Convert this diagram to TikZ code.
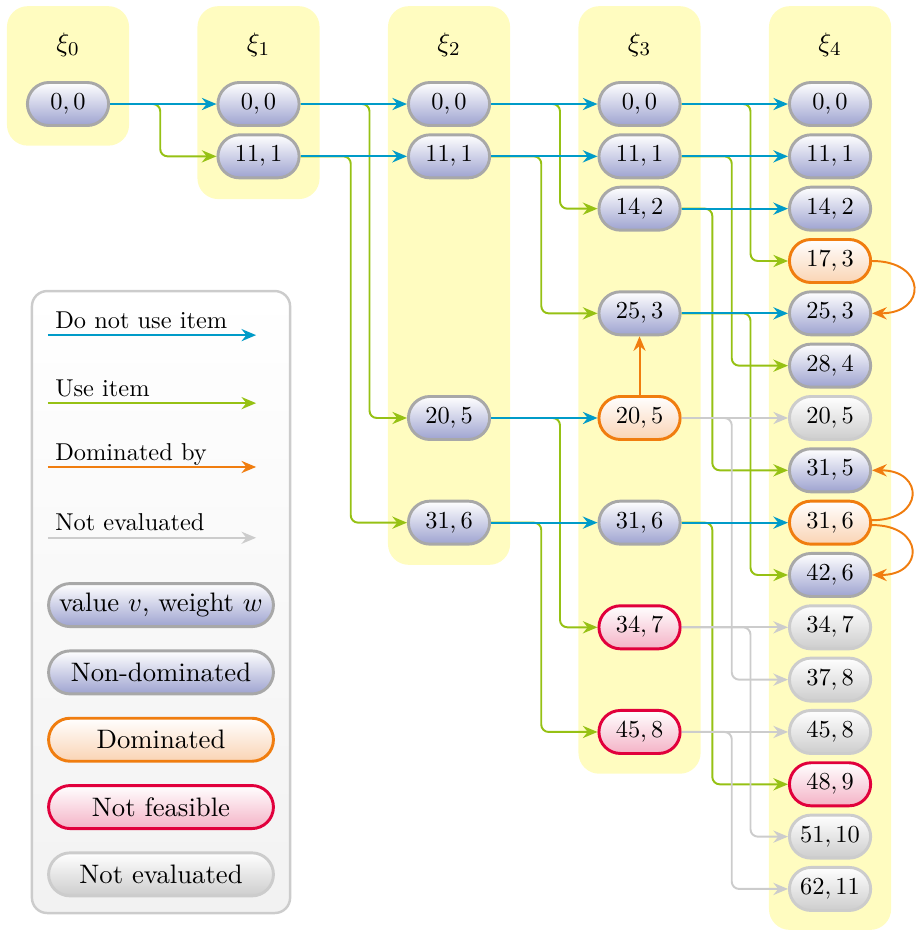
\documentclass[tikz,border=0pt]{standalone}
\usetikzlibrary{arrows.meta}

\definecolor{stageyellow}{RGB}{255,252,192}
\definecolor{skipblue}{RGB}{0,155,200}
\definecolor{usegreen}{RGB}{150,193,20}
\definecolor{domorange}{RGB}{240,125,15}
\definecolor{infred}{RGB}{225,0,60}
\definecolor{evalgray}{RGB}{204,204,204}
\definecolor{bordergray}{RGB}{168,168,168}
\definecolor{fillblue}{RGB}{158,163,208}
\definecolor{fillpeach}{RGB}{250,212,180}
\definecolor{fillpink}{RGB}{244,178,198}
\definecolor{fillgray}{RGB}{205,205,205}
\definecolor{keyback}{RGB}{242,242,242}

\tikzset{
  cell/.style={rectangle, rounded corners=3.1mm, minimum width=1.17cm,
    minimum height=0.62cm, inner sep=1pt, line width=1.2pt},
  nondom/.style={cell, draw=bordergray, top color=white, bottom color=fillblue},
  dom/.style={cell, draw=domorange, top color=white, bottom color=fillpeach},
  infeas/.style={cell, draw=infred, top color=white, bottom color=fillpink},
  noteval/.style={cell, draw=evalgray, top color=white, bottom color=fillgray},
  edgetip/.style={-{Stealth[length=6pt,width=5pt,inset=2pt]}},
  skipedge/.style={edgetip, thick, draw=skipblue},
  useedge/.style={edgetip, thick, draw=usegreen, rounded corners=3pt},
  domedge/.style={edgetip, thick, draw=domorange},
  evaledge/.style={edgetip, thick, draw=evalgray, rounded corners=3pt},
  stagebox/.style={fill=stageyellow, rounded corners=3mm},
  stagelabel/.style={font=\fontsize{10.95}{13}\selectfont},
  keynode/.style={minimum width=3.24cm, font=\fontsize{10.95}{13}\selectfont},
}

\begin{document}
\begin{tikzpicture}
  \useasboundingbox (-0.98,1.4986) rectangle (12.205,-11.916);

  % stage xi_0
  \begin{scope}
    \fill[stagebox] (-0.88,1.41) rectangle (0.88,-0.6);
    \node[stagelabel] (x0) at (0,0.85) {$\xi_0$};
    \node[nondom] (a0) at (0,0) {$0,0$};
  \end{scope}

  % stage xi_1
  \begin{scope}[xshift=2.745cm]
    \fill[stagebox] (-0.88,1.41) rectangle (0.88,-1.37);
    \node[stagelabel] (x1) at (0,0.85) {$\xi_1$};
    \node[nondom] (b0)  at (0, 0)     {$0,0$};
    \node[nondom] (b11) at (0,-0.754) {$11,1$};
  \end{scope}

  % stage xi_2
  \begin{scope}[xshift=5.49cm]
    \fill[stagebox] (-0.88,1.41) rectangle (0.88,-6.64);
    \node[stagelabel] (x2) at (0,0.85) {$\xi_2$};
    \node[nondom] (c0)  at (0, 0)     {$0,0$};
    \node[nondom] (c11) at (0,-0.754) {$11,1$};
    \node[nondom] (c20) at (0,-4.524) {$20,5$};
    \node[nondom] (c31) at (0,-6.032) {$31,6$};
  \end{scope}

  % stage xi_3
  \begin{scope}[xshift=8.235cm]
    \fill[stagebox] (-0.88,1.41) rectangle (0.88,-9.65);
    \node[stagelabel] (x3) at (0,0.85) {$\xi_3$};
    \node[nondom] (d0)  at (0, 0)     {$0,0$};
    \node[nondom] (d11) at (0,-0.754) {$11,1$};
    \node[nondom] (d14) at (0,-1.508) {$14,2$};
    \node[nondom] (d25) at (0,-3.016) {$25,3$};
    \node[dom]    (d20) at (0,-4.524) {$20,5$};
    \node[nondom] (d31) at (0,-6.032) {$31,6$};
    \node[infeas] (d34) at (0,-7.540) {$34,7$};
    \node[infeas] (d45) at (0,-9.048) {$45,8$};
  \end{scope}

  % stage xi_4
  \begin{scope}[xshift=10.98cm]
    \fill[stagebox] (-0.88,1.41) rectangle (0.88,-11.9);
    \node[stagelabel] (x4) at (0,0.85) {$\xi_4$};
    \node[nondom]  (e0)   at (0, 0)      {$0,0$};
    \node[nondom]  (e11)  at (0,-0.754)  {$11,1$};
    \node[nondom]  (e14)  at (0,-1.508)  {$14,2$};
    \node[dom]     (e17)  at (0,-2.262)  {$17,3$};
    \node[nondom]  (e25)  at (0,-3.016)  {$25,3$};
    \node[nondom]  (e28)  at (0,-3.770)  {$28,4$};
    \node[noteval] (e20)  at (0,-4.524)  {$20,5$};
    \node[nondom]  (e31a) at (0,-5.278)  {$31,5$};
    \node[dom]     (e31b) at (0,-6.032)  {$31,6$};
    \node[nondom]  (e42)  at (0,-6.786)  {$42,6$};
    \node[noteval] (e34)  at (0,-7.540)  {$34,7$};
    \node[noteval] (e37)  at (0,-8.294)  {$37,8$};
    \node[noteval] (e45)  at (0,-9.048)  {$45,8$};
    \node[infeas]  (e48)  at (0,-9.802)  {$48,9$};
    \node[noteval] (e51)  at (0,-10.556) {$51,10$};
    \node[noteval] (e62)  at (0,-11.310) {$62,11$};
  \end{scope}

  % use item
  \draw[useedge] (a0.east)  -| ([xshift=-8.1mm]b11.west)  -- (b11.west);
  \draw[useedge] (b0.east)  -| ([xshift=-5.4mm]c20.west)  -- (c20.west);
  \draw[useedge] (b11.east) -| ([xshift=-8.1mm]c31.west)  -- (c31.west);
  \draw[useedge] (c0.east)  -| ([xshift=-5.4mm]d14.west)  -- (d14.west);
  \draw[useedge] (c11.east) -| ([xshift=-8.1mm]d25.west)  -- (d25.west);
  \draw[useedge] (c20.east) -| ([xshift=-5.4mm]d34.west)  -- (d34.west);
  \draw[useedge] (c31.east) -| ([xshift=-8.1mm]d45.west)  -- (d45.west);
  \draw[useedge] (d0.east)  -| ([xshift=-5.4mm]e17.west)  -- (e17.west);
  \draw[useedge] (d11.east) -| ([xshift=-8.1mm]e28.west)  -- (e28.west);
  \draw[useedge] (d14.east) -| ([xshift=-10.9mm]e31a.west) -- (e31a.west);
  \draw[useedge] (d25.east) -| ([xshift=-5.4mm]e42.west)  -- (e42.west);
  \draw[useedge] (d31.east) -| ([xshift=-10.9mm]e48.west) -- (e48.west);

  % not evaluated
  \draw[evaledge] (d20) -- (e20);
  \draw[evaledge] (d34) -- (e34);
  \draw[evaledge] (d45) -- (e45);
  \draw[evaledge] (d20.east) -| ([xshift=-8.1mm]e37.west) -- (e37.west);
  \draw[evaledge] (d34.east) -| ([xshift=-5.4mm]e51.west) -- (e51.west);
  \draw[evaledge] (d45.east) -| ([xshift=-8.1mm]e62.west) -- (e62.west);

  % do not use item
  \begin{scope}[every edge/.style={draw, skipedge}]
    \path (a0)  edge (b0);
    \path (b0)  edge (c0);
    \path (b11) edge (c11);
    \path (c0)  edge (d0);
    \path (c11) edge (d11);
    \path (c20) edge (d20);
    \path (c31) edge (d31);
    \path (d0)  edge (e0);
    \path (d11) edge (e11);
    \path (d14) edge (e14);
    \path (d25) edge (e25);
    \path (d31) edge (e31b);
  \end{scope}

  % dominated by
  \draw[domedge] (d20) -- (d25);
  \draw[domedge] (e17.east) to[out=0,in=0,looseness=2.7] (e25.east);
  \draw[domedge] ([yshift=1pt]e31b.east) to[out=0,in=0,looseness=2.7] (e31a.east);
  \draw[domedge] ([yshift=-1pt]e31b.east) to[out=0,in=0,looseness=2.7] (e42.east);

  % legend
  \begin{scope}
    \draw[draw=evalgray, line width=1pt, top color=white, bottom color=keyback,
      rounded corners=2.2mm] (-0.52,-2.695) rectangle (3.2,-11.657);
    \coordinate (k1s) at (-0.29,-3.33);
    \coordinate (k1e) at (2.71,-3.33);
    \coordinate (k2s) at (-0.29,-4.31);
    \coordinate (k2e) at (2.71,-4.31);
    \coordinate (k3s) at (-0.29,-5.23);
    \coordinate (k3e) at (2.71,-5.23);
    \coordinate (k4s) at (-0.29,-6.25);
    \coordinate (k4e) at (2.71,-6.25);
    \draw[skipedge] (k1s) -- (k1e);
    \draw[useedge]  (k2s) -- (k2e);
    \draw[domedge]  (k3s) -- (k3e);
    \draw[evaledge] (k4s) -- (k4e);
    \node[anchor=base west, inner sep=0pt] (k1t) at (-0.19,-3.23) {Do not use item};
    \node[anchor=base west, inner sep=0pt] (k2t) at (-0.19,-4.21) {Use item};
    \node[anchor=base west, inner sep=0pt] (k3t) at (-0.19,-5.13) {Dominated by};
    \node[anchor=base west, inner sep=0pt] (k4t) at (-0.19,-6.15) {Not evaluated};
    \node[nondom, keynode]  (k5) at (1.34,-7.22)  {value $v$, weight $w$};
    \node[nondom, keynode]  (k6) at (1.34,-8.19)  {Non-dominated};
    \node[dom, keynode]     (k7) at (1.34,-9.16)  {Dominated};
    \node[infeas, keynode]  (k8) at (1.34,-10.13) {Not feasible};
    \node[noteval, keynode] (k9) at (1.34,-11.10) {Not evaluated};
  \end{scope}
\end{tikzpicture}
\end{document}
